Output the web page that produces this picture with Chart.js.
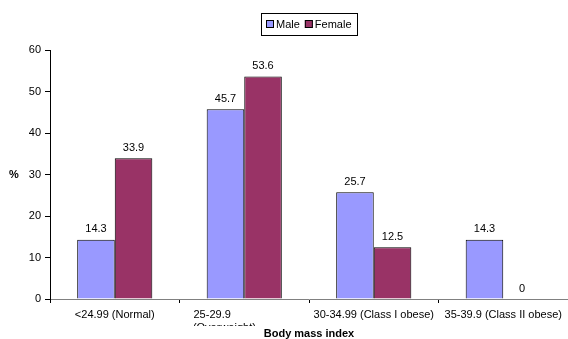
<!DOCTYPE html>
<html>
<head>
<meta charset="utf-8">
<script src="https://cdn.jsdelivr.net/npm/chart.js@4/dist/chart.umd.min.js"></script>
<style>
  html, body { margin: 0; padding: 0; background: #fff; }
  #wrap { width: 568px; height: 339px; }
</style>
</head>
<body>
<div id="wrap"><canvas id="bmi-chart"></canvas></div>
<script>
// the second label is wrapped and left aligned in the original, hence the spaces
const categories = [
  "<24.99 (Normal)",
  ["25-29.9" + " ".repeat(21), "(Overweight)" + " ".repeat(13)],
  "30-34.99 (Class I obese)",
  "35-39.9 (Class II obese)"
];
const seriesNames = ["Male", "Female"];
const maleValues = [14.3, 45.7, 25.7, 14.3];
const femaleValues = [33.9, 53.6, 12.5, 0];
const yTicks = [0, 10, 20, 30, 40, 50, 60];

const fontFamily = "'Liberation Sans', Arial, sans-serif";
const colors = ["#9999FF", "#993366"];

// value labels above each bar
const valueLabels = {
  id: "valueLabels",
  afterDatasetsDraw(chart) {
    const ctx = chart.ctx;
    ctx.save();
    ctx.font = "11px " + fontFamily;
    ctx.fillStyle = "#000";
    ctx.textAlign = "center";
    ctx.textBaseline = "bottom";
    chart.data.datasets.forEach((ds, i) => {
      chart.getDatasetMeta(i).data.forEach((bar, j) => {
        ctx.fillText(String(ds.data[j]), bar.x, bar.y - 5);
      });
    });
    ctx.restore();
  }
};

// boxed legend, horizontal "%" title, clipped second line of label 2
const extras = {
  id: "extras",
  afterDraw(chart) {
    const ctx = chart.ctx;
    const area = chart.chartArea;
    ctx.save();

    // cut the wrapped label like the original does
    ctx.fillStyle = "#fff";
    ctx.fillRect(185, 326, 78, 13);

    ctx.font = "bold 11px " + fontFamily;
    ctx.fillStyle = "#000";
    ctx.textAlign = "center";
    ctx.textBaseline = "middle";
    ctx.fillText("%", 14, (area.top + area.bottom) / 2);

    // legend
    ctx.font = "11px " + fontFamily;
    ctx.textAlign = "left";
    const w1 = ctx.measureText(seriesNames[0]).width;
    const w2 = ctx.measureText(seriesNames[1]).width;
    const total = 5 + 8 + 2 + w1 + 5 + 8 + 2 + w2 + 5;
    const cx = (area.left + area.right) / 2;
    let x = Math.round(cx - total / 2);
    const top = 13, h = 22, midY = top + h / 2;
    ctx.strokeStyle = "#000";
    ctx.lineWidth = 1;
    ctx.strokeRect(x + 0.5, top + 0.5, Math.round(total), h);
    x += 5;
    seriesNames.forEach((name, i) => {
      ctx.fillStyle = colors[i];
      ctx.fillRect(x, midY - 4, 8, 8);
      ctx.strokeStyle = "#000";
      ctx.strokeRect(x + 0.5, midY - 3.5, 7, 7);
      ctx.fillStyle = "#000";
      ctx.fillText(name, x + 10, midY + 1);
      x += 10 + (i === 0 ? w1 : w2) + 5;
    });
    ctx.restore();
  }
};

new Chart(document.getElementById("bmi-chart"), {
  type: "bar",
  data: {
    labels: categories,
    datasets: [
      {
        label: seriesNames[0],
        data: maleValues,
        backgroundColor: colors[0],
        borderColor: "#000",
        borderWidth: 1,
        barPercentage: 1.0,
        categoryPercentage: 0.58
      },
      {
        label: seriesNames[1],
        data: femaleValues,
        backgroundColor: colors[1],
        borderColor: "#000",
        borderWidth: 1,
        barPercentage: 1.0,
        categoryPercentage: 0.58
      }
    ]
  },
  options: {
    responsive: true,
    maintainAspectRatio: false,
    animation: false,
    layout: { padding: { left: 0, right: 0, top: 50, bottom: 0 } },
    plugins: {
      legend: { display: false },
      tooltip: { enabled: false }
    },
    scales: {
      x: {
        grid: {
          display: true,
          drawOnChartArea: false,
          offset: true,
          color: "#000",
          tickLength: 4
        },
        border: { color: "#808080" },
        ticks: {
          color: "#000",
          maxRotation: 0,
          autoSkip: false,
          padding: 5,
          font: { size: 11, family: fontFamily }
        },
        title: {
          display: true,
          text: "Body mass index",
          color: "#000",
          padding: { top: 0, bottom: 0 },
          font: { size: 11, weight: "bold", family: fontFamily, lineHeight: 1 }
        },
        afterFit(scale) { scale.height = 40; }
      },
      y: {
        min: 0,
        max: 60,
        afterBuildTicks(scale) { scale.ticks = yTicks.map(v => ({ value: v })); },
        grid: { display: true, drawOnChartArea: false, color: "#000", tickLength: 5 },
        border: { color: "#000" },
        ticks: {
          color: "#000",
          padding: 4,
          font: { size: 11, family: fontFamily }
        },
        afterFit(scale) { scale.width = 50; }
      }
    }
  },
  plugins: [valueLabels, extras]
});
</script>
</body>
</html>
